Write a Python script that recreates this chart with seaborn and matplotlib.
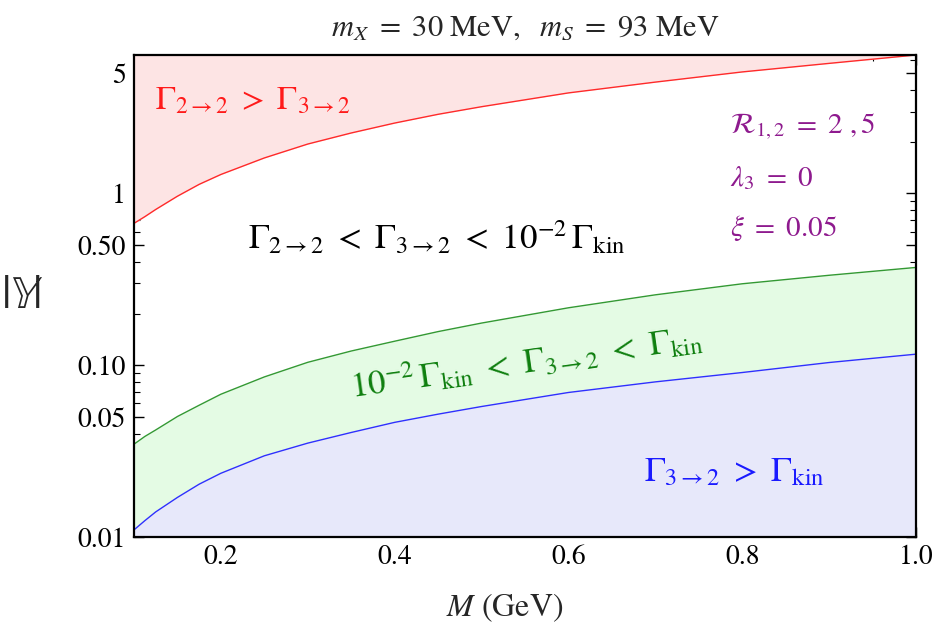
import numpy as np
import pandas as pd
import matplotlib
matplotlib.use("Agg")
import matplotlib.pyplot as plt
import matplotlib.ticker as mticker
import seaborn as sns

# ---- data ----
M = [0.1, 0.1125, 0.125, 0.15, 0.175, 0.2, 0.25, 0.3, 0.35, 0.4, 0.45, 0.5, 0.6, 0.7, 0.8, 0.9, 1.0]
red_curve = [0.67, 0.733, 0.807, 0.964, 1.13, 1.29, 1.61, 1.94, 2.25, 2.57, 2.89, 3.20, 3.85, 4.45, 5.10, 5.72, 6.40]
green_curve = [0.0347, 0.0385, 0.042, 0.0503, 0.0585, 0.0678, 0.0855, 0.1040, 0.121, 0.138, 0.157, 0.176,
               0.216, 0.257, 0.298, 0.334, 0.371]
blue_curve = [0.0110, 0.01245, 0.0140, 0.0170, 0.0203, 0.0235, 0.0297, 0.0352, 0.0406, 0.0465, 0.0519, 0.0575,
              0.0694, 0.080, 0.0907, 0.1037, 0.116]

y_major = [0.01, 0.05, 0.1, 0.5, 1, 5]
y_major_labels = ["0.01", "0.05", "0.10", "0.50", "1", "5"]
x_major = [0.2, 0.4, 0.6, 0.8, 1.0]
x_major_labels = ["0.2", "0.4", "0.6", "0.8", "1.0"]

sns.set_style("ticks")
plt.rcParams["font.family"] = ["STIXGeneral", "DejaVu Serif"]
plt.rcParams["mathtext.fontset"] = "stix"

df = pd.DataFrame({
    "M": M * 3,
    "Y": red_curve + green_curve + blue_curve,
    "curve": ["red"] * len(M) + ["green"] * len(M) + ["blue"] * len(M),
})

fig = plt.figure(figsize=(9.38, 6.44), dpi=100)
ax = fig.add_axes([134 / 938, 1 - 537 / 644, 782 / 938, 482 / 644])
ax.set_yscale("log")

ymin, ymax = 0.01, red_curve[-1]
ax.fill_between(M, red_curve, ymax, color="#fde4e4", lw=0)
ax.fill_between(M, blue_curve, green_curve, color="#e4fbe4", lw=0)
ax.fill_between(M, ymin, blue_curve, color="#e7e8fa", lw=0)

sns.lineplot(data=df, x="M", y="Y", hue="curve",
             palette={"red": "#ff2a2a", "green": "#339933", "blue": "#2f2fff"},
             linewidth=1.0, legend=False, ax=ax, sort=True)

ax.set_xlim(0.1, 1.0)
ax.set_ylim(ymin, ymax)
ax.set_xlabel("")
ax.set_ylabel("")

ax.yaxis.set_major_locator(mticker.FixedLocator(y_major))
ax.yaxis.set_major_formatter(mticker.FixedFormatter(y_major_labels))
minors = [v * 10 ** e for e in (-2, -1, 0) for v in range(2, 10)]
minors = [m for m in minors if m not in (0.05, 0.5, 5)]
ax.yaxis.set_minor_locator(mticker.FixedLocator(minors))
ax.yaxis.set_minor_formatter(mticker.NullFormatter())

ax.xaxis.set_major_locator(mticker.FixedLocator(x_major))
ax.xaxis.set_major_formatter(mticker.FixedFormatter(x_major_labels))
ax.xaxis.set_minor_locator(mticker.MultipleLocator(0.05))

ax.tick_params(which="both", direction="in", top=True, right=True, labelsize=20, colors="black")
ax.tick_params(which="major", length=7, width=1.0, pad=6)
ax.tick_params(which="minor", length=4, width=0.8)
for s in ax.spines.values():
    s.set_visible(True)
    s.set_linewidth(1.6)
    s.set_color("black")

ax.set_title(r"$m_X\ =\ 30\ \mathrm{MeV},\ \ m_S\ =\ 93\ \mathrm{MeV}$", fontsize=22, pad=14)

ax.text(0.027, 0.905, r"$\Gamma_{2\to 2}\ >\ \Gamma_{3\to 2}$", transform=ax.transAxes,
        color="#ff1a1a", fontsize=24, ha="left", va="center")
ax.text(0.387, 0.620, r"$\Gamma_{2\to 2}\ <\ \Gamma_{3\to 2}\ <\ 10^{-2}\,\Gamma_{\mathrm{kin}}$",
        transform=ax.transAxes, color="black", fontsize=25, ha="center", va="center")
ax.text(0.502, 0.362, r"$10^{-2}\,\Gamma_{\mathrm{kin}}\ <\ \Gamma_{3\to 2}\ <\ \Gamma_{\mathrm{kin}}$",
        transform=ax.transAxes, color="#0f7f0f", fontsize=25, ha="center", va="center",
        rotation=8, rotation_mode="anchor")
ax.text(0.768, 0.132, r"$\Gamma_{3\to 2}\ >\ \Gamma_{\mathrm{kin}}$", transform=ax.transAxes,
        color="#1a1aff", fontsize=25, ha="center", va="center")

purple = "#8e1a8e"
ax.text(0.762, 0.851, r"$\mathcal{R}_{1,2}\ =\ 2\ ,5$", transform=ax.transAxes,
        color=purple, fontsize=21, ha="left", va="center")
ax.text(0.762, 0.745, r"$\lambda_3\ =\ 0$", transform=ax.transAxes,
        color=purple, fontsize=21, ha="left", va="center")
ax.text(0.762, 0.641, r"$\xi\ =\ 0.05$", transform=ax.transAxes,
        color=purple, fontsize=21, ha="left", va="center")

ax.text(-0.143, 0.498, r"$|\mathbb{Y}|$", transform=ax.transAxes, fontsize=34,
        ha="center", va="center")
ax.text(0.474, -0.147, r"$M$ (GeV)", transform=ax.transAxes, fontsize=23,
        ha="center", va="center")

fig.savefig("out.png", dpi=100)
